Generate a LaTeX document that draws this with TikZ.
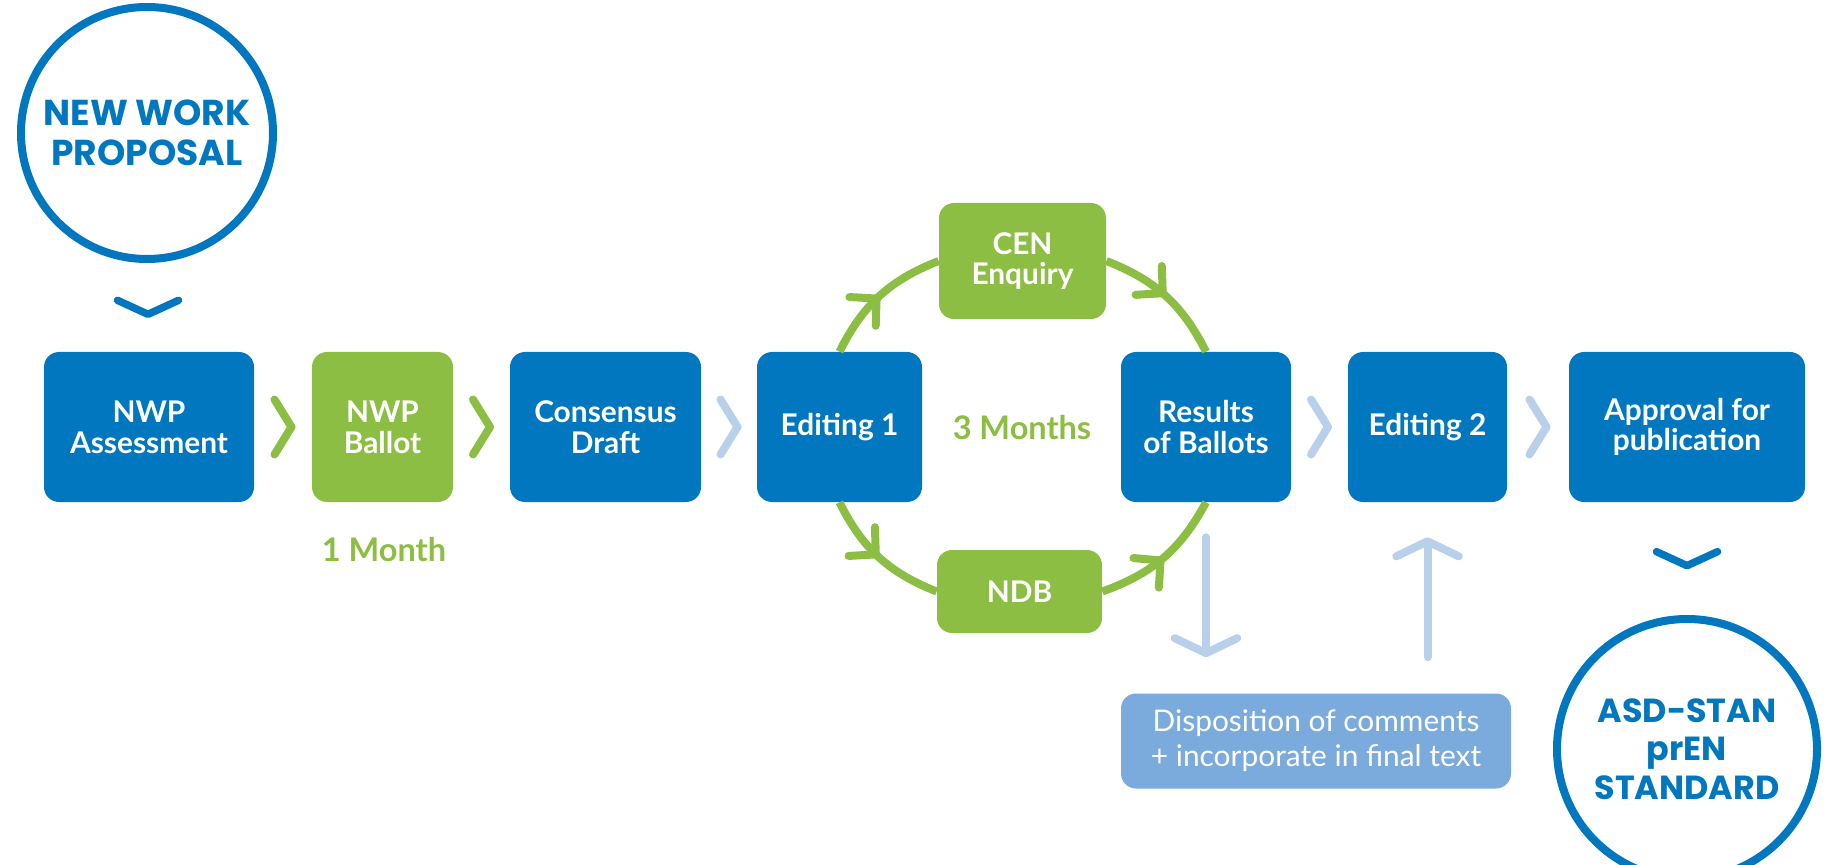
\documentclass[tikz,border=0pt]{standalone}
\usepackage{fontspec}
\setmainfont{Lato}
\newfontfamily\circfont{Poppins}
\usetikzlibrary{arrows.meta,calc,decorations.markings}

\definecolor{asdblue}{RGB}{0,119,190}
\definecolor{asdgreen}{RGB}{140,190,68}
\definecolor{asdlight}{RGB}{184,208,234}
\definecolor{asdmid}{RGB}{122,171,220}

\tikzset{
  stepbox/.style={rounded corners=0.3cm, minimum height=3cm, text=white, align=center,
    inner sep=2pt, font=\bfseries\fontsize{17}{17.5}\selectfont},
  bluebox/.style={stepbox, fill=asdblue},
  greenbox/.style={stepbox, fill=asdgreen},
  bigcircle/.style={circle, draw=asdblue, line width=0.16cm, text=asdblue, align=center,
    inner sep=0pt, font=\circfont\bfseries\fontsize{19}{22}\selectfont},
  chevron/.style={line width=0.16cm, line cap=round, line join=round},
  ring/.style={asdgreen, line width=0.16cm, postaction={decorate},
    decoration={markings, mark=at position 0.5 with {\arrow[asdgreen,line width=0.16cm]{Straight Barb[length=0.38cm,width=0.78cm,line cap=round,line join=round]}}}},
  lightarrow/.style={asdlight, line width=0.16cm, line cap=round,
    -{Straight Barb[length=0.3cm,width=1.25cm,line cap=round,line join=round]}},
  monthlabel/.style={text=asdgreen, font=\bfseries\fontsize{18.5}{20}\selectfont}
}

\begin{document}
\begin{tikzpicture}
        \clip (0,0) rectangle (36.54,17.28);

        %start and end
        \node[bigcircle, minimum size=5.04cm, font=\circfont\bfseries\fontsize{20.5}{23}\selectfont] (nwc) at (2.94,14.62) {NEW WORK\\PROPOSAL};
        \node[bigcircle, minimum size=5.2cm] (std) at (33.74,2.30) {ASD-STAN\\prEN\\STANDARD};

        %main row
        \node[bluebox, minimum width=4.2cm] (nwpa) at (2.98,8.74) {NWP\\Assessment};
        \node[greenbox, minimum width=2.82cm] (nwpb) at (7.65,8.74) {NWP\\Ballot};
        \node[bluebox, minimum width=3.82cm] (cons) at (12.11,8.74) {Consensus\\Draft};
        \node[bluebox, minimum width=3.3cm] (ed1) at (16.79,8.74) {Editing 1};
        \node[bluebox, minimum width=3.4cm] (res) at (24.12,8.74) {Results\\of Ballots};
        \node[bluebox, minimum width=3.18cm] (ed2) at (28.55,8.74) {Editing 2};
        \node[bluebox, minimum width=4.72cm] (app) at (33.74,8.74) {Approval for\\publication};

        %ballots
        \node[greenbox, minimum width=3.34cm, minimum height=2.32cm] (cen) at (20.45,12.06) {CEN\\Enquiry};
        \node[greenbox, minimum width=3.3cm, minimum height=1.66cm] (ndb) at (20.39,5.45) {NDB};
        \node[monthlabel] (m3) at (20.44,8.72) {3 Months};
        \node[monthlabel] (m1) at (7.68,6.28) {1 Month};

        \node[fill=asdmid, rounded corners=0.3cm, minimum width=7.8cm, minimum height=1.9cm,
          text=white, align=center, font=\fontsize{17}{20}\selectfont] (disp) at (26.32,2.46)
          {Disposition of comments\\+ incorporate in final text};

        %ring
        \draw[ring] (ed1.north) to[bend left=21] (cen.west);
        \draw[ring] (cen.east) to[bend left=21] (res.north);
        \draw[ring] (ed1.south) to[bend right=21] (ndb.west);
        \draw[ring] (ndb.east) to[bend right=21] (res.south);

        %chevrons
        \foreach \a/\b/\c in {nwpa/nwpb/asdgreen, nwpb/cons/asdgreen, cons/ed1/asdlight, res/ed2/asdlight, ed2/app/asdlight}
          \draw[chevron,\c] ($(\a.east)!0.5!(\b.west)$) ++(-0.17,0.55) -- ++(0.34,-0.55) -- ++(-0.34,-0.55);
        \draw[chevron,asdblue,line width=0.15cm] ($(nwc.south)!0.5!(nwpa.north)$) ++(-0.61,0.14) -- ++(0.61,-0.28) -- ++(0.61,0.28);
        \draw[chevron,asdblue,line width=0.15cm] ($(app.south)!0.5!(std.north)$) ++(-0.61,0.14) -- ++(0.61,-0.28) -- ++(0.61,0.28);

        %comments
        \draw[lightarrow, shorten <=0.7cm, shorten >=0.72cm] (res.south) -- (res.south |- disp.north);
        \draw[lightarrow, shorten <=0.72cm, shorten >=0.7cm] (ed2.south |- disp.north) -- (ed2.south);

\end{tikzpicture}
\end{document}
